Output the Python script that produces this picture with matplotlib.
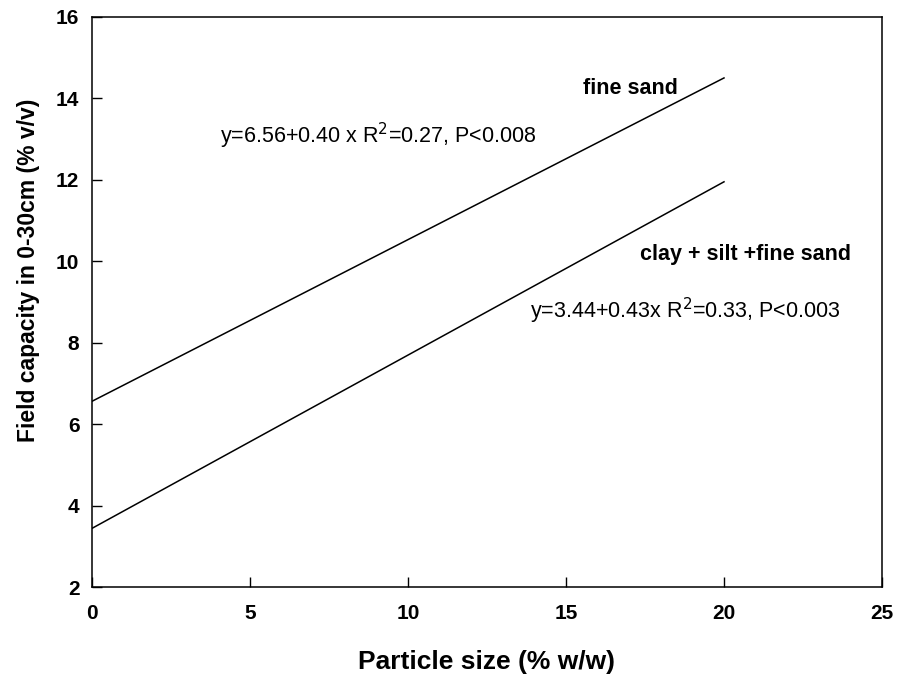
import numpy as np
import matplotlib
matplotlib.use("Agg")
import matplotlib.pyplot as plt

plt.rcParams['font.family'] = ['Liberation Sans', 'DejaVu Sans']

# regression lines (end points)
x_ends = [0, 20]
fine_sand_y = [6.56, 14.5]
mixed_y = [3.44, 11.95]

x_ticks = [0, 5, 10, 15, 20, 25]
y_ticks = [2, 4, 6, 8, 10, 12, 14, 16]

fig = plt.figure(figsize=(8.98, 6.77), dpi=100)
ax = fig.add_axes([0.1024, 0.1329, 0.8798, 0.8422])

ax.plot(x_ends, fine_sand_y, color='black', lw=1.1)
ax.plot(x_ends, mixed_y, color='black', lw=1.1)

ax.text(15.55, 14.25, "fine sand", fontsize=15.5, fontweight='bold', va='center')
ax.text(4.05, 13.08, "y=6.56+0.40 x R$^2$=0.27, P<0.008", fontsize=15.5, va='center')
ax.text(17.35, 10.17, "clay + silt +fine sand", fontsize=15.5, fontweight='bold', va='center')
ax.text(13.85, 8.78, "y=3.44+0.43x R$^2$=0.33, P<0.003", fontsize=15.5, va='center')

ax.set_xlim(0, 25)
ax.set_ylim(2, 16)
ax.set_xticks(x_ticks)
ax.set_yticks(y_ticks)
ax.tick_params(direction='in', length=7, width=1, labelsize=15, top=False, right=False)
ax.tick_params(axis='x', pad=12)
ax.tick_params(axis='y', pad=9)
for lab in ax.get_xticklabels() + ax.get_yticklabels():
    lab.set_fontweight('bold')
for s in ax.spines.values():
    s.set_linewidth(1.1)

ax.set_xlabel("Particle size (% w/w)", fontsize=19, fontweight='bold', labelpad=20)
ax.set_ylabel("Field capacity in 0-30cm (% v/v)", fontsize=16.5, fontweight='bold')
ax.yaxis.set_label_coords(-0.066, 0.556)

fig.savefig("out.png", dpi=100)
